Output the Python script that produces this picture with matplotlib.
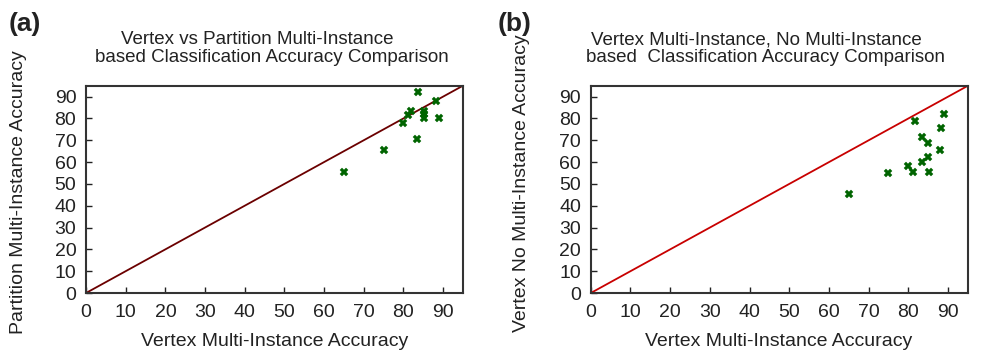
import matplotlib.pyplot as plt
import numpy as np

plt.rcParams["font.family"] = ["Liberation Sans", "DejaVu Sans"]

# panel (a): vertex MI accuracy vs partition MI accuracy
vertex_a = [83.6, 88.1, 81.9, 81.2, 85.1, 85.1, 85.2, 89.0, 80.0, 83.4, 75.0, 65.0]
partition_a = [92.0, 87.9, 83.5, 81.7, 83.5, 82.0, 80.2, 80.3, 77.9, 70.4, 65.3, 55.3]

# panel (b): vertex MI accuracy vs vertex without MI accuracy
vertex_b = [88.9, 81.7, 88.2, 83.5, 85.0, 88.0, 85.0, 83.3, 79.9, 81.1, 85.1, 74.9, 64.9]
nomi_b = [82.2, 78.9, 75.5, 71.7, 68.8, 65.3, 62.4, 59.9, 58.3, 55.5, 55.5, 54.9, 45.3]

ticks = list(range(0, 91, 10))
lim = [0, 95]
txt = "#222222"

fig = plt.figure(figsize=(9.83, 3.52), dpi=100)
ax_a = fig.add_axes([0.0875, 0.1676, 0.3835, 0.589])
ax_b = fig.add_axes([0.601, 0.1676, 0.3838, 0.589])


def style(ax, xs, ys, line_color):
    ax.plot(lim, lim, color=line_color, lw=1.3, zorder=2)
    ax.plot(xs, ys, linestyle="none", marker="X", markersize=5.5,
            color="#006400", markeredgewidth=0.3, zorder=3)
    ax.set_xlim(lim)
    ax.set_ylim(lim)
    ax.set_xticks(ticks)
    ax.set_yticks(ticks)
    ax.tick_params(direction="in", length=4, width=1, labelsize=14,
                   colors=txt)
    ax.tick_params(axis="x", pad=8)
    ax.tick_params(axis="y", pad=7)
    for s in ax.spines.values():
        s.set_linewidth(1.5)
        s.set_color("#333333")


style(ax_a, vertex_a, partition_a, "#6b0000")
style(ax_b, vertex_b, nomi_b, "#c80000")

W, H = 983, 352


def ftext(x, y, s, **kw):
    fig.text(x / W, 1 - y / H, s, ha="center", va="center", color=txt, **kw)


ftext(25, 24, "(a)", fontsize=19, fontweight="bold")
ftext(515, 24, "(b)", fontsize=19, fontweight="bold")
ftext(257, 40, "Vertex vs Partition Multi-Instance", fontsize=13.5)
ftext(272, 58, "based Classification Accuracy Comparison", fontsize=13.5)
ftext(756, 40, "Vertex Multi-Instance, No Multi-Instance", fontsize=13.5)
ftext(765, 58, "based  Classification Accuracy Comparison", fontsize=13.5)
ftext(275, 342, "Vertex Multi-Instance Accuracy", fontsize=14)
ftext(779, 342, "Vertex Multi-Instance Accuracy", fontsize=14)
ftext(19, 192, "Partition Multi-Instance Accuracy", fontsize=14, rotation=90)
ftext(521, 183, "Vertex No Multi-Instance Accuracy", fontsize=14, rotation=90)

fig.savefig("out.png", dpi=100)
